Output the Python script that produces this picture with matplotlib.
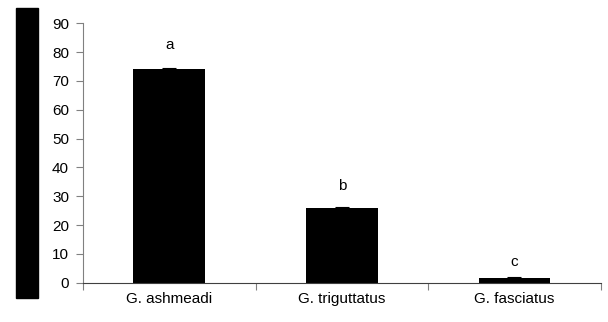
import matplotlib.pyplot as plt
import numpy as np
from matplotlib.patches import Rectangle

plt.rcParams['font.family'] = ['Liberation Sans', 'DejaVu Sans']

species = ['G. ashmeadi', 'G. triguttatus', 'G. fasciatus']
means = [74.0, 26.0, 1.7]
errors = [0.6, 0.2, 0.2]
letters = ['a', 'b', 'c']
letter_y = [82.5, 33.5, 7.2]

fig = plt.figure(figsize=(6.08, 3.22), dpi=100)
ax = fig.add_axes([0.1365, 0.122, 0.988 - 0.1365, 0.9276 - 0.122])

x = np.arange(len(species))
ax.bar(x, means, width=0.415, color='black', zorder=2)
ax.errorbar(x, means, yerr=errors, fmt='none', ecolor='black',
            elinewidth=0.8, capsize=5, capthick=0.8, zorder=3)
for xi, lab, ly in zip(x, letters, letter_y):
    ax.text(xi, ly, lab, ha='center', va='center', fontsize=11)

ax.set_xlim(-0.5, 2.5)
ax.set_ylim(0, 90)
ax.set_yticks(np.arange(0, 91, 10))
ax.set_xticks([-0.5, 0.5, 1.5, 2.5])
ax.set_xticklabels([])
ax.set_xticks(x, minor=True)
ax.set_xticklabels(species, minor=True, fontsize=11)
ax.tick_params(axis='x', which='minor', length=0, pad=7)
ax.tick_params(axis='x', which='major', length=5, color='#808080', direction='out')
ax.tick_params(axis='y', length=5, color='#808080', direction='out', labelsize=11, pad=5)

for side in ['top', 'right']:
    ax.spines[side].set_visible(False)
ax.spines['left'].set_color('#808080')
ax.spines['bottom'].set_color('#404040')

# black block covering the y axis title
fig.patches.append(Rectangle((16 / 608, 1 - 298 / 322), 22 / 608, 290 / 322,
                             transform=fig.transFigure, color='black'))

fig.savefig('out.png', dpi=100)
